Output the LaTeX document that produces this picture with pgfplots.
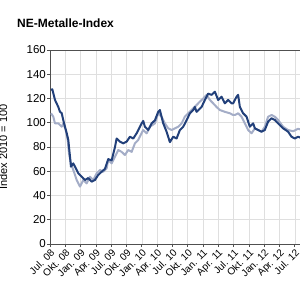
\documentclass[border=0pt]{standalone}
\usepackage{fontspec}
\setmainfont{Liberation Sans}
\usepackage{pgfplots}
\pgfplotsset{compat=1.18}
\definecolor{navy}{HTML}{22407A}
\definecolor{lightb}{HTML}{A4ADC7}
\definecolor{axgray}{HTML}{505050}
\begin{document}
\begin{tikzpicture}[x=1pt,y=1pt]
\useasboundingbox (0,0) rectangle (300,300);
\node[anchor=base west, inner sep=0pt, font=\bfseries\fontsize{12}{14}\selectfont] at (17,272.5) {NE-Metalle-Index};
\begin{axis}[
  at={(50pt,56pt)}, anchor=south west,
  scale only axis, width=255pt, height=194pt,
  xmin=0, xmax=50, ymin=0, ymax=160,
  /pgf/number format/assume math mode=true,
  ytick={0,20,...,160},
  xtick={0,3,...,48},
  xticklabels={Jul. 08, Okt. 08, Jan. 09, Apr. 09, Jul. 09, Okt. 09, Jan. 10, Apr. 10, Jul. 10, Okt. 10, Jan. 11, Apr. 11, Jul. 11, Okt. 11, Jan. 12, Apr. 12, Jul. 12},
  x tick label style={rotate=45, anchor=north east, inner sep=1pt, font=\fontsize{10}{12}\selectfont},
  y tick label style={font=\fontsize{11.5}{13}\selectfont, inner sep=1pt},
  tick align=outside, xtick pos=bottom, ytick pos=left,
  major tick length=3pt,
  tick style={axgray, line width=0.8pt},
  axis line style={axgray, line width=0.9pt},
  grid=major, grid style={gray!25, line width=0.6pt},
  ylabel={Index 2010 = 100},
  ylabel style={at={(axis description cs:-0.184,0.5)}, anchor=center, rotate=0, font=\fontsize{11}{13}\selectfont, inner sep=0pt},
  line join=round,
]
\addplot[lightb, line width=2pt] coordinates {
(0.2,107.8) (0.65,105) (0.98,99.5) (1.63,99.5) (2.29,96.7) (2.61,99.5) (3.08,94) (3.47,85.8) (3.72,74.8) (4.11,66.5) (4.57,61) (5.23,52.8) (5.88,47.3) (6.52,52.8) (7.19,50) (7.84,55.5) (8.48,52.8) (9.15,58.4) (9.80,61) (10.44,59.6) (11.11,62.4) (11.42,69.3) (12.09,66.5) (12.74,72) (13.38,77.5) (14.05,76) (14.69,73.4) (15.34,77.5) (16.01,76) (16.65,83) (17.30,85.8) (18.28,94) (18.95,91.3) (19.59,96.7) (20.57,99.5) (21.22,107.8) (21.88,105) (22.53,99.5) (23.18,95.4) (23.84,94) (24.49,95.4) (25.14,96.7) (25.80,99.5) (26.45,105) (27.10,107.8) (27.76,110.5) (28.74,114.6) (29.39,117.4) (30.04,120) (30.70,123) (31.35,118.8) (32.00,116) (32.66,113) (33.31,110.5) (34.29,109) (35.27,107.8) (35.91,106.4) (36.25,106.4) (36.89,107.8) (37.56,105) (38.21,99.5) (38.85,94) (39.52,91.3) (40.17,95.4) (40.81,94) (41.48,92.6) (42.12,96.7) (42.77,105) (43.44,106.4) (44.08,105) (44.73,102.3) (45.71,96.7) (46.69,94) (47.67,93) (48.65,95) (49.5,94)
};
\addplot[navy, line width=2pt] coordinates {
(0.2,127) (0.45,127.6) (0.98,118.8) (1.63,113) (1.96,109) (2.29,108) (2.61,102) (2.94,96.7) (3.27,91.5) (3.59,85.8) (3.92,72) (4.11,63.8) (4.57,66.5) (5.23,61) (5.54,58.4) (6.21,55.5) (6.86,52.8) (7.50,54.4) (8.17,51.4) (8.82,52.8) (9.46,57) (10.13,59.6) (10.78,62) (11.42,70) (12.09,69) (12.74,80) (13.07,87) (13.71,84.4) (14.36,83) (15.03,84.4) (15.67,88.5) (16.32,87) (16.99,91.3) (17.97,99.5) (18.28,101.5) (18.61,96.7) (19.26,94) (19.93,99.5) (20.57,102) (21.22,109) (21.55,110.5) (22.20,99.5) (22.86,92.6) (23.51,84) (24.16,88.5) (24.82,87) (25.47,94) (26.12,96.7) (26.78,102) (27.43,107.8) (28.08,110.5) (28.41,113) (28.74,109) (29.72,113) (30.37,118.8) (31.01,124) (31.68,123) (32.33,125.6) (32.97,118.8) (33.64,121.5) (34.29,116) (34.93,118.8) (35.60,116) (35.91,116) (36.58,121.5) (36.89,123) (37.23,113) (37.87,107.8) (38.54,105) (39.18,96.7) (39.83,99.5) (40.17,95.4) (40.81,94) (41.48,92.6) (42.12,94) (42.77,100.9) (43.44,103.7) (44.08,102.3) (44.73,99.5) (45.71,95.4) (46.69,92.6) (47.35,88.5) (48.00,87) (48.65,88.5) (49.5,87)
};
\end{axis}
\end{tikzpicture}
\end{document}
